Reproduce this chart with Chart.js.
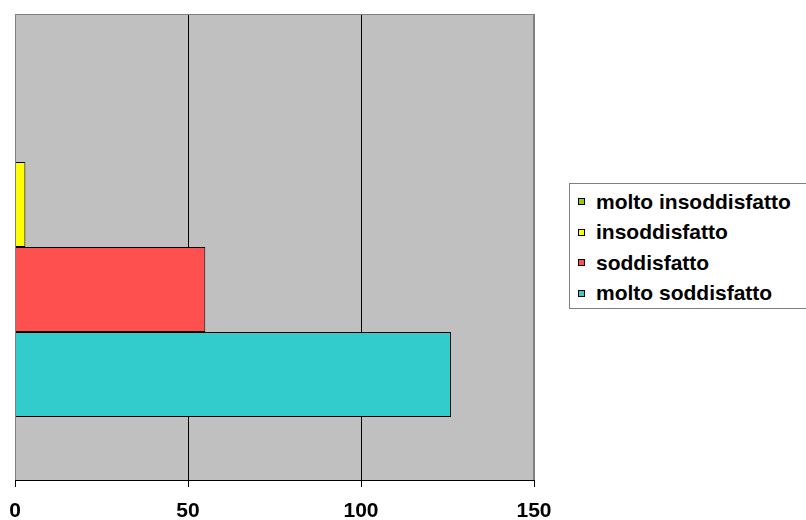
<!DOCTYPE html>
<html>
<head>
<meta charset="utf-8">
<script src="https://cdn.jsdelivr.net/npm/chart.js@4/dist/chart.umd.min.js"></script>
<style>
  html, body { margin: 0; padding: 0; background: #fff; }
  #wrap { position: relative; width: 806px; height: 520px; overflow: hidden; }
  #legend {
    position: absolute; left: 569px; top: 183px; width: 260px; height: 126px;
    box-sizing: border-box; border: 1px solid #808080; background: #fff;
    padding: 2.5px 0 0 8px;
    font: bold 21px 'Liberation Sans', Arial, sans-serif; color: #000;
  }
  #legend .row { display: flex; align-items: center; height: 30.5px; white-space: nowrap; }
  #legend .mk { width: 5px; height: 5px; border: 1px solid #000; margin-right: 11px; flex: none; }
</style>
</head>
<body>
<div id="wrap"><canvas id="chart"></canvas><div id="legend"></div></div>
<script>
// data
var categories = [''];
var seriesNames = ['molto insoddisfatto', 'insoddisfatto', 'soddisfatto', 'molto soddisfatto'];
var seriesValues = [[0], [3], [55], [126]];
var seriesColors = ['#99CC00', '#FFFF00', '#FF5050', '#33CCCC'];
var xTicks = [0, 50, 100, 150];

var FONT = 'Liberation Sans, Arial, sans-serif';

/* ======= plot background + borders ======= */
var frame = {
    id: 'frame',
    beforeDraw: function (chart) {
        var a = chart.chartArea, c = chart.ctx;
        c.save();
        c.fillStyle = '#C0C0C0';
        c.fillRect(a.left, a.top, a.right - a.left, a.bottom - a.top);
        c.restore();
    },
    afterDraw: function (chart) {
        var a = chart.chartArea, c = chart.ctx;
        c.save();
        c.strokeStyle = '#808080';
        c.lineWidth = 1;
        c.beginPath();
        c.moveTo(a.left + 0.5, a.bottom);
        c.lineTo(a.left + 0.5, a.top + 0.5);
        c.lineTo(a.right - 0.5, a.top + 0.5);
        c.lineTo(a.right - 0.5, a.bottom);
        c.stroke();
        c.restore();
    }
};

var datasets = seriesNames.map(function (name, i) {
    return {
        label: name,
        data: seriesValues[i],
        backgroundColor: seriesColors[i],
        borderColor: '#000',
        borderWidth: 1,
        categoryPercentage: 0.73,
        barPercentage: 1
    };
});

var chart = new Chart(document.getElementById('chart'), {
    type: 'bar',
    data: { labels: categories, datasets: datasets },
    plugins: [frame],
    options: {
        indexAxis: 'y',
        responsive: true,
        maintainAspectRatio: false,
        animation: false,
        layout: { padding: { left: 15, top: 14, right: 272, bottom: 0 } },
        plugins: {
            legend: { display: false },
            tooltip: { enabled: false }
        },
        scales: {
            x: {
                min: 0,
                max: 150,
                afterBuildTicks: function (s) { s.ticks = xTicks.map(function (v) { return { value: v }; }); },
                afterFit: function (s) { s.height = 40; s.paddingLeft = 0; s.paddingRight = 0; },
                grid: {
                    color: function (ctx) { return (ctx.tick && (ctx.tick.value === 0 || ctx.tick.value === 150)) ? '#808080' : '#000'; },
                    tickColor: '#000',
                    tickLength: 7
                },
                border: { color: '#000' },
                ticks: {
                    color: '#000',
                    padding: 14,
                    maxRotation: 0,
                    font: { family: FONT, size: 21, weight: 'bold', lineHeight: 1 }
                }
            },
            y: { display: false }
        }
    }
});

/* ======= legend (html) ======= */
var lg = document.getElementById('legend');
seriesNames.forEach(function (name, i) {
    var row = document.createElement('div');
    row.className = 'row';
    var mk = document.createElement('span');
    mk.className = 'mk';
    mk.style.background = seriesColors[i];
    row.appendChild(mk);
    row.appendChild(document.createTextNode(name));
    lg.appendChild(row);
});
</script>
</body>
</html>
